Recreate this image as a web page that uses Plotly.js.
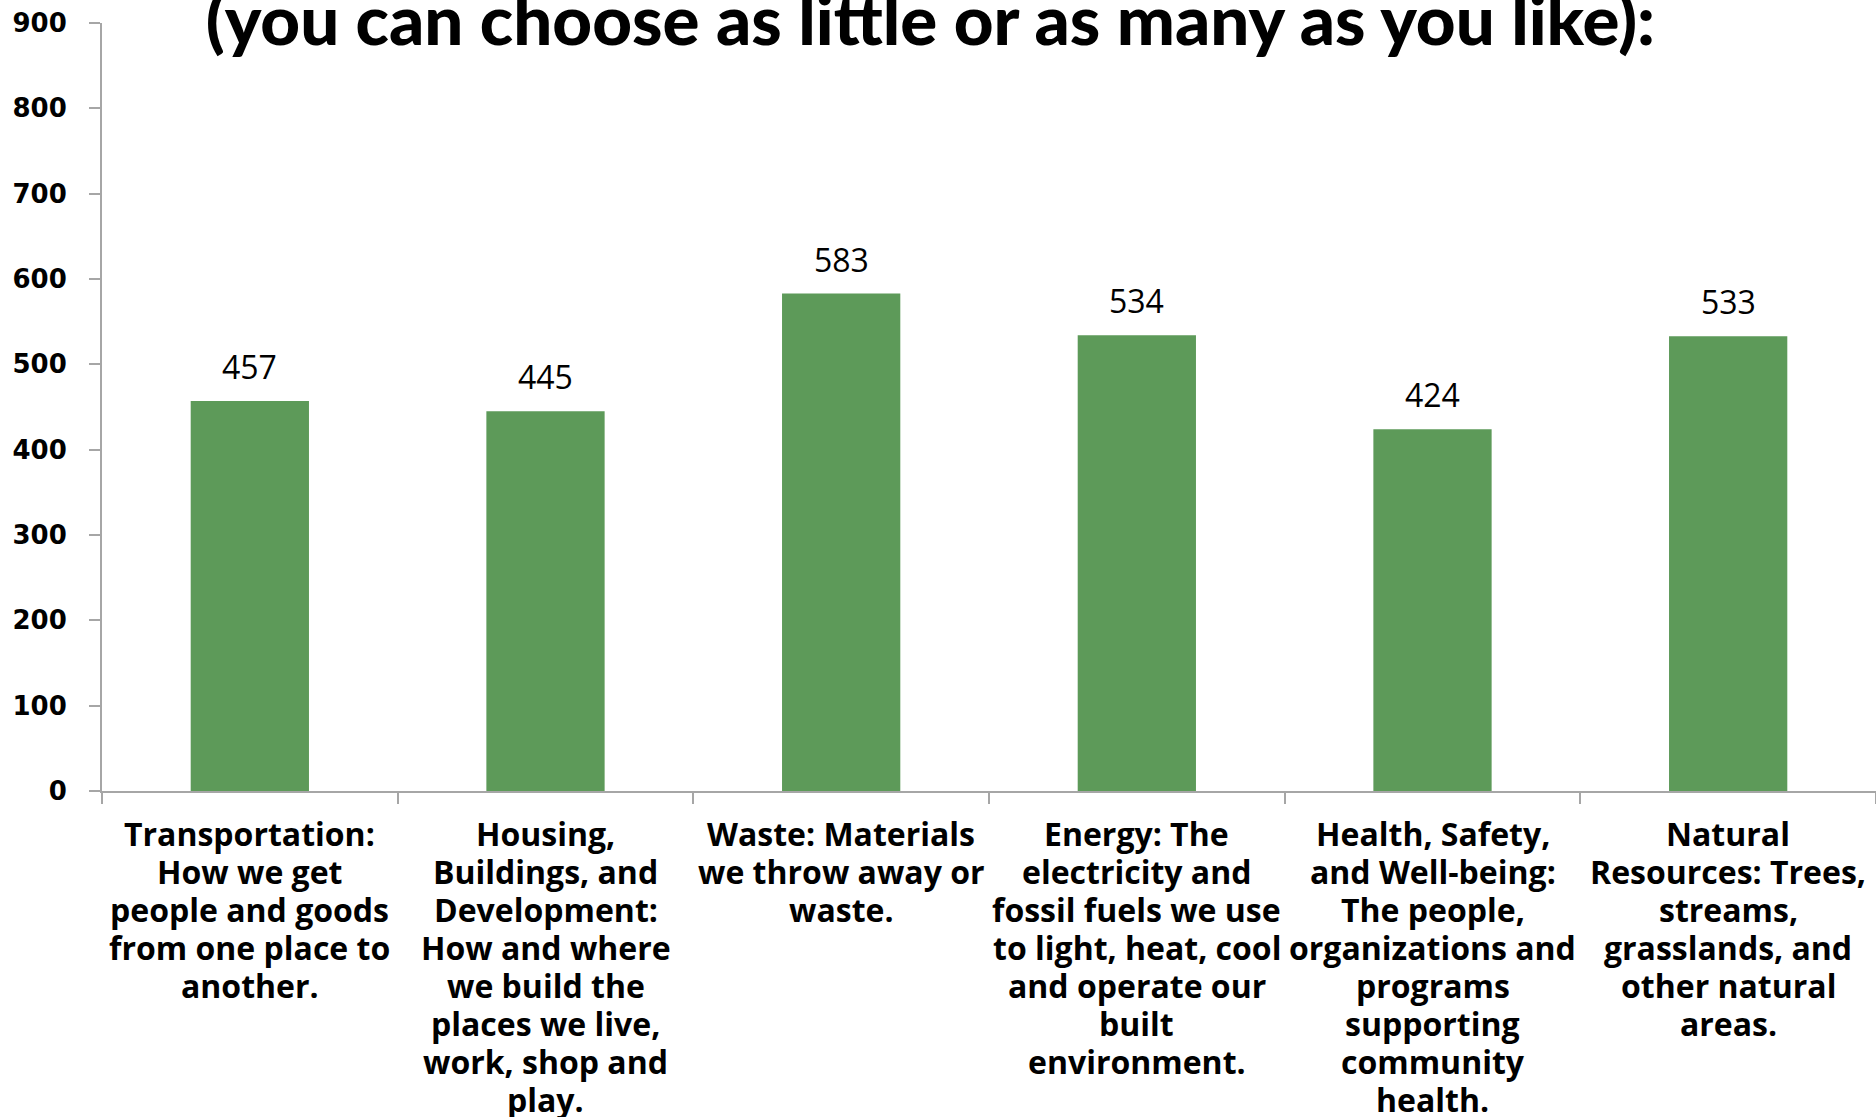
<!DOCTYPE html>
<html>
<head>
<meta charset="utf-8">
<script src="https://cdn.plot.ly/plotly-3.0.1.min.js"></script>
<style>html,body{margin:0;padding:0;background:#fff;}#chart{width:1876px;height:1117px;}</style>
</head>
<body>
<div id="chart"></div>
<script>
const categories = [
  "Transportation:<br>How we get<br>people and goods<br>from one place to<br>another.",
  "Housing,<br>Buildings, and<br>Development:<br>How and where<br>we build the<br>places we live,<br>work, shop and<br>play.",
  "Waste: Materials<br>we throw away or<br>waste.",
  "Energy: The<br>electricity and<br>fossil fuels we use<br>to light, heat, cool<br>and operate our<br>built<br>environment.",
  "Health, Safety,<br>and Well-being:<br>The people,<br>organizations and<br>programs<br>supporting<br>community<br>health.",
  "Natural<br>Resources: Trees,<br>streams,<br>grasslands, and<br>other natural<br>areas."
];
const values = [457, 445, 583, 534, 424, 533];
const yTicks = [0, 100, 200, 300, 400, 500, 600, 700, 800, 900];
const titleText = "(you can choose as little or as many as you like):";

const trace = {
  type: 'bar',
  x: categories,
  y: values,
  marker: {color: '#5d9a59'},
  hoverinfo: 'none'
};

const annotations = categories.map((c, i) => ({
  x: c, y: values[i], xref: 'x', yref: 'y',
  text: String(values[i]), showarrow: false,
  yanchor: 'bottom', yshift: 11,
  font: {family: 'Open Sans', size: 32, color: '#000'}
}));

// Category labels, one annotation per line for tighter line spacing
const LABEL_FIRST = 42, LABEL_STEP = 38;
categories.forEach(c => {
  c.split('<br>').forEach((line, k) => {
    annotations.push({
      x: c, xref: 'x', y: 0, yref: 'paper',
      text: line, showarrow: false,
      xanchor: 'center', yanchor: 'middle',
      yshift: -(LABEL_FIRST + k * LABEL_STEP),
      font: {family: 'Open Sans', size: 32, color: '#000', weight: 700}
    });
  });
});

const layout = {
  width: 1876, height: 1117,
  paper_bgcolor: '#fff', plot_bgcolor: '#fff',
  margin: {l: 102, r: 0, t: 23, b: 326},
  bargap: 0.6,
  showlegend: false,
  title: {
    text: titleText,
    font: {family: 'Lato', size: 69, color: '#000', weight: 900},
    x: 0.467, xref: 'paper', xanchor: 'center',
    y: 0.9815, yref: 'container', yanchor: 'middle'
  },
  xaxis: {
    type: 'category',
    showline: true, linecolor: '#a6a6a6', linewidth: 2,
    ticks: 'outside', tickson: 'boundaries', ticklen: 11, tickcolor: '#a6a6a6', tickwidth: 2,
    showticklabels: false,
    showgrid: false, zeroline: false, fixedrange: true
  },
  yaxis: {
    range: [0, 900],
    tickvals: yTicks, ticktext: yTicks.map(String),
    showline: true, linecolor: '#a6a6a6', linewidth: 2,
    ticks: 'outside', ticklen: 11, tickcolor: '#a6a6a6', tickwidth: 2,
    ticklabelstandoff: 17,
    tickfont: {family: 'DejaVu Sans', size: 26, color: '#000', weight: 700},
    showgrid: false, zeroline: false, fixedrange: true
  },
  annotations: annotations
};

Plotly.newPlot('chart', [trace], layout, {displayModeBar: false, staticPlot: true});
</script>
</body>
</html>
